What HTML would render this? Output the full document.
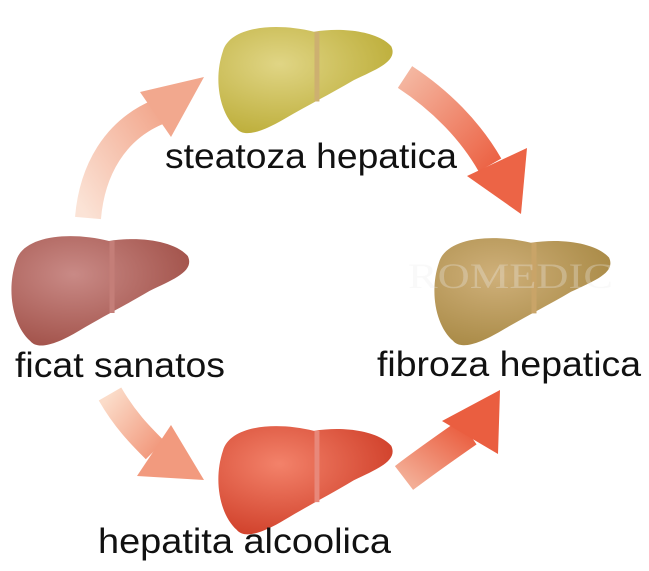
<!DOCTYPE html>
<html><head><meta charset="utf-8"><style>html,body{margin:0;padding:0;background:#fff}svg{display:block}</style></head>
<body>
<svg width="649" height="571" viewBox="0 0 649 571" xmlns="http://www.w3.org/2000/svg">
<defs>
<linearGradient id="a1" x1="0" y1="1" x2="1" y2="0"><stop offset="0" stop-color="#fbe3d6"/><stop offset="1" stop-color="#f2a88e"/></linearGradient>
<linearGradient id="a2" x1="0" y1="0" x2="1" y2="1"><stop offset="0" stop-color="#f4b6a0"/><stop offset="1" stop-color="#ec6446"/></linearGradient>
<linearGradient id="a3" x1="0" y1="0" x2="1" y2="1"><stop offset="0" stop-color="#fbdcc9"/><stop offset="1" stop-color="#f29a7e"/></linearGradient>
<linearGradient id="a4" x1="0" y1="1" x2="1" y2="0"><stop offset="0" stop-color="#f3ad95"/><stop offset="1" stop-color="#ea5e40"/></linearGradient>
<radialGradient id="lRed" cx="0.35" cy="0.35" r="0.7"><stop offset="0" stop-color="#c98a86"/><stop offset="1" stop-color="#a2524a"/></radialGradient>
<radialGradient id="lYel" cx="0.35" cy="0.35" r="0.7"><stop offset="0" stop-color="#e0d585"/><stop offset="1" stop-color="#bdae3a"/></radialGradient>
<radialGradient id="lBrn" cx="0.35" cy="0.35" r="0.7"><stop offset="0" stop-color="#cfb07a"/><stop offset="1" stop-color="#a98a46"/></radialGradient>
<radialGradient id="lOr" cx="0.35" cy="0.35" r="0.7"><stop offset="0" stop-color="#f3826a"/><stop offset="1" stop-color="#d0402a"/></radialGradient>
<path id="liv" d="M8,30 C15,5 60,0 100,10 C130,5 165,10 178,25 C185,40 165,48 140,60 C115,75 95,85 70,100 C50,112 30,120 22,110 C5,95 -2,60 8,30 Z"/>
</defs>

<path d="M88,218 C92,170 115,130 158,112" fill="none" stroke="url(#a1)" stroke-width="26"/>
<polygon points="140,92 204,77 171,137" fill="#f2a88e"/>
<path d="M405,77 C440,100 470,130 490,165" fill="none" stroke="url(#a2)" stroke-width="26"/>
<polygon points="467,176 527,148 521,214" fill="#ec6446"/>
<path d="M110,394 C125,420 140,435 155,450" fill="none" stroke="url(#a3)" stroke-width="26"/>
<polygon points="137,476 171,425 204,480" fill="#f29a7e"/>
<path d="M404,478 C425,462 445,448 468,432" fill="none" stroke="url(#a4)" stroke-width="30"/>
<polygon points="442,421 500,390 498,454" fill="#ea5e40"/>

<g transform="translate(215,22) scale(0.99,0.97)"><use href="#liv" fill="url(#lYel)"/><path d="M103,10 L103,82" stroke="#cdb070" stroke-width="5"/></g>
<g transform="translate(8,231) scale(1.01,1.0)"><use href="#liv" fill="url(#lRed)"/><path d="M103,10 L103,82" stroke="#c47e78" stroke-width="5"/></g>
<g transform="translate(431,233) scale(1.0,0.98)"><use href="#liv" fill="url(#lBrn)"/><path d="M103,10 L103,82" stroke="#c9a468" stroke-width="5"/></g>
<g transform="translate(215,421) scale(0.99,0.99)"><use href="#liv" fill="url(#lOr)"/><path d="M103,10 L103,82" stroke="#e8887a" stroke-width="5"/></g>

<text x="408" y="288" font-family="Liberation Serif, serif" font-size="36" fill="#eee" opacity="0.3" textLength="205" lengthAdjust="spacingAndGlyphs">ROMEDIC</text>

<g font-family="Liberation Sans, sans-serif" font-size="35" fill="#111">
<text x="165" y="168" textLength="292" lengthAdjust="spacingAndGlyphs">steatoza hepatica</text>
<text x="15" y="377" textLength="210" lengthAdjust="spacingAndGlyphs">ficat sanatos</text>
<text x="377" y="376" textLength="264" lengthAdjust="spacingAndGlyphs">fibroza hepatica</text>
<text x="98" y="553" textLength="293" lengthAdjust="spacingAndGlyphs">hepatita alcoolica</text>
</g>
</svg>
</body></html>
